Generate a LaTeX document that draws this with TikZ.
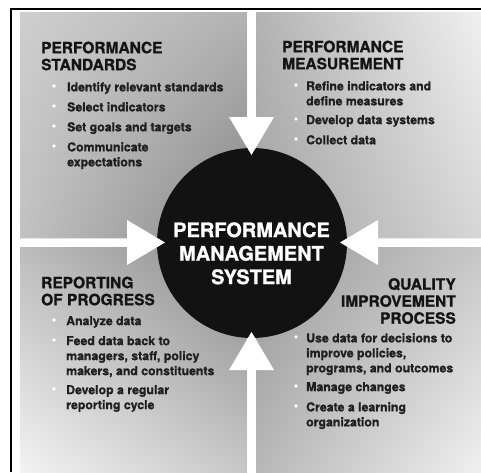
\documentclass[tikz,border=0pt]{standalone}
\usepackage{fontspec}
\usetikzlibrary{shadings}
\setmainfont{TeX Gyre Heros}
\newfontfamily\heavyfam[FakeBold=1]{TeX Gyre Heros}
\begin{document}
\begin{tikzpicture}[x=1pt,y=-1pt,
  ttl/.style={inner sep=0, align=left, anchor=north west, text=black!92,
    font=\heavyfam\bfseries\fontsize{15.5}{17}\selectfont},
  itm/.style={inner sep=0, align=left, anchor=north west, text=black!88,
    font=\heavyfam\bfseries\fontsize{12.3}{15}\selectfont},
  bdot/.style={circle, fill=white, inner sep=0, minimum size=3.6pt},
  warrow/.style={fill=white, draw=none},
  frame/.style={line width=2.5pt, line join=miter}]
\newcommand\bitem[5]{%
  \node[bdot] (#1d) at (#2,#4-5) {};
  \node[itm] (#1) at (#3,#4-9) {#5};}
\useasboundingbox (0,0) rectangle (481,472);
\fill[white] (0,0) rectangle (481,472);
% panels
\shade[upper left=black!19, upper right=black!30, lower left=black!24, lower right=black!48]
  (20,12) rectangle (247,238);
\shade[upper left=black!30, upper right=black!6, lower left=black!36, lower right=black!16]
  (256,12) rectangle (481,238);
\shade[upper left=black!26, upper right=black!46, lower left=black!5, lower right=black!22]
  (20,247) rectangle (247,472);
\shade[upper left=black!40, upper right=black!22, lower left=black!28, lower right=black!6]
  (256,247) rectangle (481,472);
% frame
\draw[frame] (11,472) -- (11,9) -- (481,9);
% centre
\node[circle, fill=black!93, minimum size=190pt, inner sep=0] (pms) at (252,243) {};
\node[align=center, inner sep=0, text=white,
  font=\heavyfam\bfseries\fontsize{20}{23.5}\selectfont] (pmstext) at (251.5,253.3)
  {PERFORMANCE\\MANAGEMENT\\SYSTEM};
% arrows
\fill[warrow] (247.3,12) -- (247.3,117) -- (229,117) -- (251.5,155) -- (274,117) -- (255.7,117) -- (255.7,12) -- cycle;
\fill[warrow] (247.3,472) -- (247.3,370) -- (229,370) -- (251.5,332) -- (274,370) -- (255.7,370) -- (255.7,472) -- cycle;
\fill[warrow] (20,238.3) -- (127,238.3) -- (127,220) -- (165,242.5) -- (127,265) -- (127,246.7) -- (20,246.7) -- cycle;
\fill[warrow] (481,238.3) -- (378,238.3) -- (378,220) -- (340,242.5) -- (378,265) -- (378,246.7) -- (481,246.7) -- cycle;
% titles
\node[ttl] (tlt) at (41,41.5) {PERFORMANCE\\STANDARDS};
\node[ttl] (trt) at (282,40.5) {PERFORMANCE\\MEASUREMENT};
\node[ttl] (blt) at (41,276.5) {REPORTING\\OF PROGRESS};
\node[ttl, align=right, anchor=north east] (brt) at (456,278) {QUALITY\\IMPROVEMENT\\PROCESS};
% bullets
\bitem{tl1}{54}{67}{91}{Identify relevant standards}
\bitem{tl2}{54}{67}{111}{Select indicators}
\bitem{tl3}{54}{67}{131}{Set goals and targets}
\bitem{tl4}{54}{67}{151}{Communicate\\expectations}
\bitem{tr1}{296}{306}{90}{Refine indicators and\\define measures}
\bitem{tr2}{296}{306}{124}{Develop data systems}
\bitem{tr3}{296}{306}{144}{Collect data}
\bitem{bl1}{54}{66}{325}{Analyze data}
\bitem{bl2}{54}{66}{345}{Feed data back to\\managers, staff, policy\\makers, and constituents}
\bitem{bl3}{54}{66}{394}{Develop a regular\\reporting cycle}
\bitem{br1}{296}{306}{342}{Use data for decisions to\\improve policies,\\programs, and outcomes}
\bitem{br2}{296}{306}{391}{Manage changes}
\bitem{br3}{296}{306}{411}{Create a learning\\organization}
\end{tikzpicture}
\end{document}
